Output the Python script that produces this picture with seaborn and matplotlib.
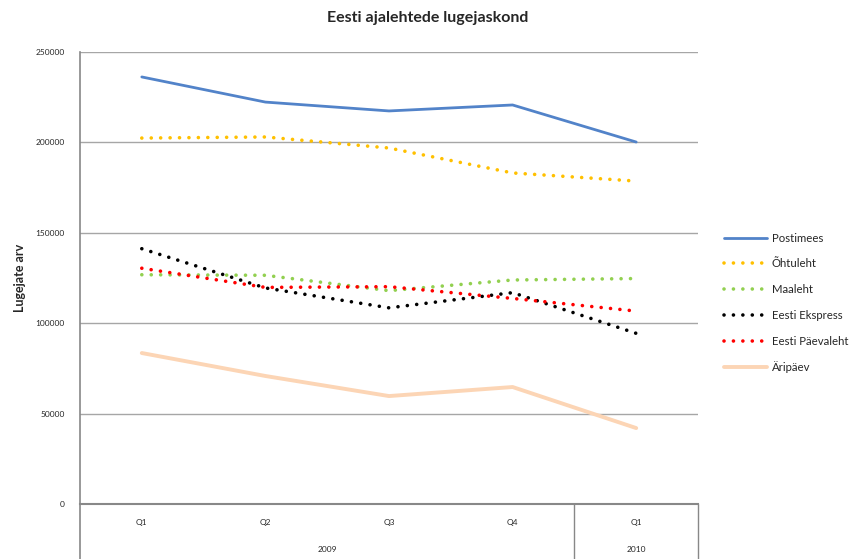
import matplotlib
matplotlib.use("Agg")
import matplotlib.pyplot as plt
import matplotlib.transforms as mtransforms
import seaborn as sns

# andmed (loetud graafikult)
kvartalid = ['Q1', 'Q2', 'Q3', 'Q4', 'Q1']
aastad = ['2009', '2010']
aasta_kvartaleid = [4, 1]

postimees = [236200, 222300, 217400, 220700, 200200]
ohtuleht = [202400, 203000, 196900, 183100, 178600]
maaleht = [126800, 126500, 118000, 123900, 124700]
eesti_ekspress = [141200, 119500, 108500, 116900, 94400]
eesti_paevaleht = [130400, 119800, 120200, 113700, 106700]
aripaev = [83500, 70800, 59700, 64700, 42000]

sarjad = ['Postimees', 'Õhtuleht', 'Maaleht', 'Eesti Ekspress', 'Eesti Päevaleht', 'Äripäev']
vaartused = [postimees, ohtuleht, maaleht, eesti_ekspress, eesti_paevaleht, aripaev]
varvid = ['#5283C9', '#FFC000', '#92D050', '#000000', '#FF0000', '#FCD5B5']
punktiir = [False, True, True, True, True, False]
joonelaius = [2.0, 2.6, 2.6, 2.6, 2.6, 2.8]

sns.set_style("white")
plt.rcParams['font.family'] = ['Lato', 'DejaVu Sans']

fig = plt.figure(figsize=(8.59, 5.59), dpi=100)
ax = fig.add_axes([80/859, 1-504/559, 618/859, 452/559])

x = list(range(len(kvartalid)))
for nimi, y, c, dot, lw in zip(sarjad, vaartused, varvid, punktiir, joonelaius):
    if dot:
        sns.lineplot(x=x, y=y, ax=ax, color=c, lw=lw, label=nimi,
                     linestyle=(0, (0.01, 2.6)), dash_capstyle='round')
    else:
        sns.lineplot(x=x, y=y, ax=ax, color=c, lw=lw, label=nimi,
                     solid_capstyle='round')

ax.set_xlim(-0.5, len(kvartalid) - 0.5)
ax.set_ylim(0, 250000)
ax.set_yticks(range(0, 250001, 50000))
ax.set_yticklabels([str(v) for v in range(0, 250001, 50000)], fontsize=6)
ax.grid(axis='y', color='#A6A6A6', lw=1)
ax.set_axisbelow(True)
ax.set_xticks([])
ax.tick_params(axis='y', length=4, color='#888888', width=1, direction='out', pad=7)
for s in ['top', 'right']:
    ax.spines[s].set_visible(False)
ax.spines['left'].set_color('#888888')
ax.spines['bottom'].set_color('#888888')
ax.spines['left'].set_linewidth(1.2)
ax.spines['bottom'].set_linewidth(1.5)

# mitmetasemelised kategooriasildid
tr = mtransforms.blended_transform_factory(ax.transData, ax.transAxes)
alumine = -55/452
for i, q in enumerate(kvartalid):
    ax.text(i, -19/452, q, transform=tr, ha='center', va='center', fontsize=6)
start = -0.5
for a, n in zip(aastad, aasta_kvartaleid):
    ax.text(start + n/2, -46/452, a, transform=tr, ha='center', va='center', fontsize=6)
    start += n
    ax.plot([start, start], [0, alumine], transform=tr, color='#888888', lw=1, clip_on=False)
ax.plot([-0.5, -0.5], [0, alumine], transform=tr, color='#888888', lw=1.2, clip_on=False)

ax.set_ylabel('Lugejate arv', fontsize=9, fontweight='bold', labelpad=7)
fig.text(428/859, 1-18/559, 'Eesti ajalehtede lugejaskond', ha='center', va='center',
         fontsize=11.5, fontweight='bold')

ax.get_legend().remove()
h, l = ax.get_legend_handles_labels()
fig.legend(h, l, loc='upper left', bbox_to_anchor=(724/859, 1-232.5/559), frameon=False,
           fontsize=8.2, handlelength=3.8, labelspacing=1.3, handletextpad=0.4,
           borderpad=0, borderaxespad=0)

fig.savefig('out.png', dpi=100)
